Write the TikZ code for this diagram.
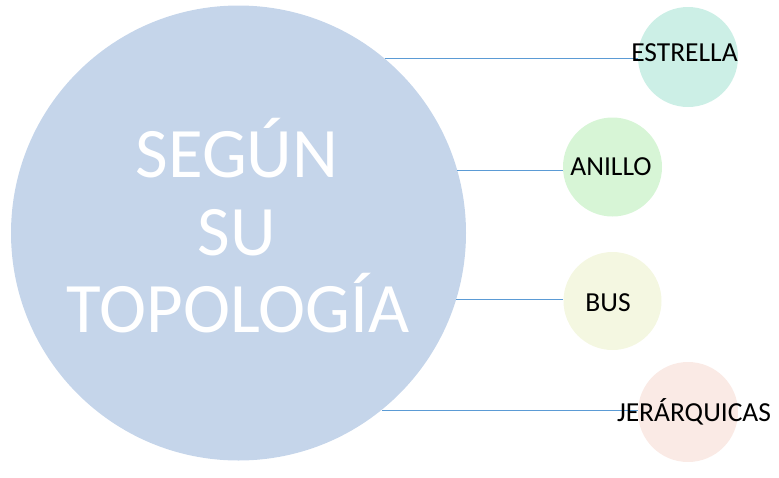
\documentclass[tikz,border=0pt]{standalone}
\usepackage{fontspec}
\setmainfont{Carlito}
\definecolor{bigc}{HTML}{C5D5EA}
\definecolor{cEst}{HTML}{CCEFE6}
\definecolor{cAni}{HTML}{D7F5D6}
\definecolor{cBus}{HTML}{F4F7E1}
\definecolor{cJer}{HTML}{FAEAE5}
\definecolor{lnc}{HTML}{5B9BD5}
\tikzset{
  dot/.style={circle, draw=none, inner sep=0pt},
  bigtxt/.style={text=white, font=\fontsize{71}{78}\selectfont, anchor=base, inner sep=0pt},
  smalltxt/.style={text=black, font=\fontsize{27.5}{32}\selectfont, anchor=base, inner sep=0pt},
  conn/.style={draw=lnc, line width=0.7pt}
}
\begin{document}
\begin{tikzpicture}[x=1pt,y=-1pt]
\useasboundingbox (0,0) rectangle (779,477);
\node[dot, fill=bigc, minimum size=455pt] (big) at (238.5,233) {};
\node[dot, fill=cEst, minimum size=100pt] (est) at (688,57) {};
\node[dot, fill=cAni, minimum size=99pt] (ani) at (612.5,167) {};
\node[dot, fill=cBus, minimum size=98pt] (bus) at (612.5,301) {};
\node[dot, fill=cJer, minimum size=100pt] (jer) at (688,412) {};
\draw[conn] (big.50.7) -- (big.50.7 -| est.west);
\draw[conn] (big.16.9) -- (big.16.9 -| ani.west);
\draw[conn] (big.-17.4) -- (big.-17.4 -| bus.west);
\draw[conn] (big.-51.9) -- (big.-51.9 -| jer.west);
\node[bigtxt] (t1) at (237,177) {SEGÚN};
\node[bigtxt] (t2) at (237,255) {SU};
\node[bigtxt] (t3) at (238,332) {TOPOLOGÍA};
\node[smalltxt] (l1) at (684.5,61) {ESTRELLA};
\node[smalltxt] (l2) at (611,175) {ANILLO};
\node[smalltxt] (l3) at (608,311) {BUS};
\node[smalltxt] (l4) at (694,421) {JERÁRQUICAS};
\end{tikzpicture}
\end{document}
